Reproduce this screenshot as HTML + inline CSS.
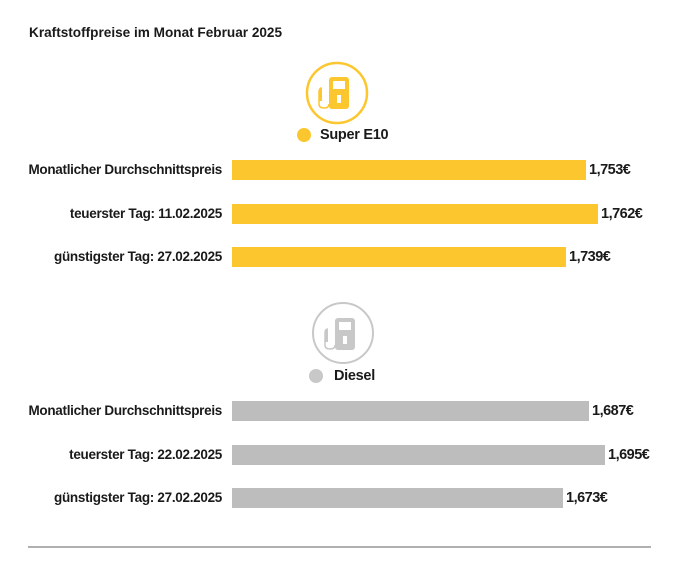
<!DOCTYPE html>
<html><head><meta charset="utf-8"><style>
body{margin:0;width:690px;height:561px;background:#fff;position:relative;overflow:hidden;font-family:"Liberation Sans",sans-serif;font-weight:bold;color:#1a1a1a}
.t{position:absolute;font-size:14px;white-space:nowrap;line-height:20px}
.l{right:468px;text-align:right;font-size:13.5px;letter-spacing:-0.3px}
.v{font-size:14.5px;letter-spacing:-0.5px}
.b{position:absolute;left:232px;height:20px}
.y{background:#fcc72e}.g{background:#bdbdbd}
</style></head><body>
<div class="t" style="left:29px;top:23px;font-size:13.6px;letter-spacing:0px">Kraftstoffpreise im Monat Februar 2025</div>
<svg style="position:absolute;left:0;top:0" width="690" height="561">
<g fill="none" stroke="#fcc72e" stroke-width="2.5"><circle cx="337" cy="93" r="30"/></g>
<g fill="#fcc72e"><rect x="329" y="77" width="20" height="32" rx="3"/><rect x="319" y="89" width="3" height="12"/></g>
<rect x="333" y="81" width="12" height="8" fill="#fff"/><rect x="337" y="95" width="4" height="8" fill="#fff"/>
<path d="M322 88 q-3 0 -3 4 v12 q0 4 5 4 q5 0 5 -4" fill="none" stroke="#fcc72e" stroke-width="1.5"/>
<circle cx="304" cy="135" r="7" fill="#fcc72e"/>
<g fill="none" stroke="#c8c8c8" stroke-width="2"><circle cx="343" cy="333" r="30"/></g>
<g fill="#c8c8c8"><rect x="335" y="318" width="20" height="32" rx="3"/><rect x="325" y="330" width="3" height="12"/></g>
<rect x="339" y="322" width="12" height="8" fill="#fff"/><rect x="343" y="336" width="4" height="8" fill="#fff"/>
<path d="M328 329 q-3 0 -3 4 v12 q0 4 5 4 q5 0 5 -4" fill="none" stroke="#c8c8c8" stroke-width="1.5"/>
<circle cx="316" cy="376" r="7" fill="#c8c8c8"/>
<line x1="28" y1="547" x2="651" y2="547" stroke="#b0b0b0" stroke-width="2"/>
</svg>
<div class="t" style="left:320px;top:125px;font-size:14.5px;letter-spacing:-0.3px">Super E10</div>
<div class="t" style="left:334px;top:366px;font-size:14.5px;letter-spacing:-0.3px">Diesel</div>

<div class="t l" style="top:160px">Monatlicher Durchschnittspreis</div>
<div class="b y" style="top:160px;width:354px"></div><div class="t v" style="left:589px;top:160px">1,753€</div>
<div class="t l" style="top:204px">teuerster Tag: 11.02.2025</div>
<div class="b y" style="top:204px;width:366px"></div><div class="t v" style="left:601px;top:204px">1,762€</div>
<div class="t l" style="top:247px">günstigster Tag: 27.02.2025</div>
<div class="b y" style="top:247px;width:334px"></div><div class="t v" style="left:569px;top:247px">1,739€</div>

<div class="t l" style="top:401px">Monatlicher Durchschnittspreis</div>
<div class="b g" style="top:401px;width:357px"></div><div class="t v" style="left:592px;top:401px">1,687€</div>
<div class="t l" style="top:445px">teuerster Tag: 22.02.2025</div>
<div class="b g" style="top:445px;width:373px"></div><div class="t v" style="left:608px;top:445px">1,695€</div>
<div class="t l" style="top:488px">günstigster Tag: 27.02.2025</div>
<div class="b g" style="top:488px;width:331px"></div><div class="t v" style="left:566px;top:488px">1,673€</div>
</body></html>
